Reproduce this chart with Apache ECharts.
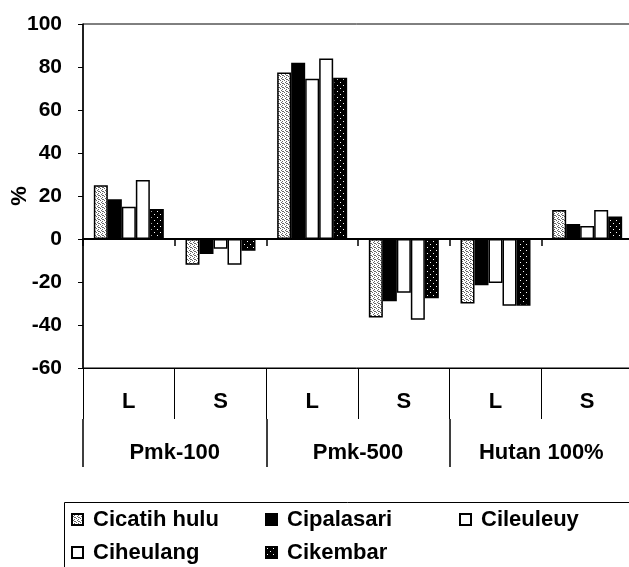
<!DOCTYPE html>
<html>
<head>
<meta charset="utf-8">
<script src="https://cdn.jsdelivr.net/npm/echarts@6/dist/echarts.min.js"></script>
<style>
html,body{margin:0;padding:0;background:#fff;}
#chart{width:629px;height:567px;}
</style>
</head>
<body>
<div id="chart"></div>
<script>
// ---- data ----
const categories = ['L', 'S', 'L', 'S', 'L', 'S'];
const groups = ['Pmk-100', 'Pmk-500', 'Hutan 100%'];
const seriesNames = ['Cicatih hulu', 'Cipalasari', 'Cileuleuy', 'Ciheulang', 'Cikembar'];
const cicatihHulu = [25, -12, 77.5, -36.5, -30, 13.5];
const cipalasari = [18.5, -7, 82, -29, -21.5, 7];
const cileuleuy = [15, -4.5, 74.5, -25, -20.5, 6];
const ciheulang = [27.5, -12, 84, -37.5, -31, 13.5];
const cikembar = [14, -5.5, 75, -27.5, -31, 10.5];
const yMin = -60, yMax = 100, yStep = 20;
const yName = '%';

// ---- patterns ----
function makePattern(size, bg, fg, dots) {
  const c = document.createElement('canvas');
  c.width = size; c.height = size;
  const g = c.getContext('2d');
  g.fillStyle = bg; g.fillRect(0, 0, size, size);
  g.fillStyle = fg;
  dots.forEach(d => g.fillRect(d[0], d[1], 1, 1));
  return { image: c, repeat: 'repeat' };
}
const lightStipple = makePattern(4, '#ffffff', '#666666', [[0,0],[2,1],[1,2],[3,3],[2,3]]);
const darkStipple = makePattern(6, '#000000', '#ffffff', [[1,1],[4,4]]);

const FONT = 'Liberation Sans, Arial, sans-serif';
const values = [cicatihHulu, cipalasari, cileuleuy, ciheulang, cikembar];
const fills = [lightStipple, '#000000', '#ffffff', '#ffffff', darkStipple];

const series = seriesNames.map((n, i) => ({
  name: n,
  type: 'bar',
  xAxisIndex: 0,
  yAxisIndex: 0,
  barWidth: 14,
  barGap: '0%',
  data: values[i],
  itemStyle: { color: fills[i], borderColor: '#000', borderWidth: 1.5 },
  emphasis: { disabled: true },
  animation: false
}));

const chart = echarts.init(document.getElementById('chart'), null, { renderer: 'canvas' });
chart.setOption({
  animation: false,
  backgroundColor: '#fff',
  grid: { left: 83, top: 24, bottom: 199, right: -4, show: true, borderColor: '#000', borderWidth: 1, backgroundColor: 'transparent', containLabel: false, outerBoundsMode: 'none' },
  graphic: [{
    type: 'rect', left: 62, top: 500, silent: true,
    shape: { width: 566, height: 90 },
    style: { fill: 'none', stroke: '#000', lineWidth: 1 }
  }],
  legend: {
    left: 62, top: 500, width: 600,
    orient: 'horizontal',
    icon: 'rect',
    itemWidth: 11, itemHeight: 11, itemGap: 0,
    padding: [3, 0, 0, 9],
    selectedMode: false,
    textStyle: { fontFamily: FONT, fontWeight: 'bold', fontSize: 22, color: '#000', width: 172, padding: [0, 0, 0, 5], lineHeight: 33 },
    data: seriesNames
  },
  xAxis: [
    {
      type: 'category', data: categories, position: 'bottom', offset: 0,
      axisLine: { show: false, onZero: false },
      axisTick: { show: false },
      axisLabel: { show: false },
      splitLine: { show: false }
    },
    {
      type: 'category', data: categories, position: 'bottom', offset: 0,
      axisLine: { onZero: false, show: true, lineStyle: { color: '#000', width: 1 } },
      axisTick: { show: true, length: 51, interval: 0, lineStyle: { color: '#000', width: 1 } },
      axisLabel: { show: true, interval: 0, margin: 23, fontFamily: FONT, fontWeight: 'bold', fontSize: 22, color: '#000' },
      splitLine: { show: false }
    },
    {
      type: 'category', data: groups, position: 'bottom', offset: 51,
      axisLine: { onZero: false, show: false },
      axisTick: { show: true, length: 48, interval: 0, lineStyle: { color: '#000', width: 1.5 } },
      axisLabel: { show: true, interval: 0, margin: 23, fontFamily: FONT, fontWeight: 'bold', fontSize: 22, color: '#000' },
      splitLine: { show: false }
    },
    {
      type: 'category', data: categories, position: 'bottom', offset: 0,
      axisLine: { show: true, onZero: false, lineStyle: { color: '#000', width: 2 } },
      axisTick: { show: true, inside: false, length: 7, interval: 0, lineStyle: { color: '#000', width: 1.5 } },
      axisLabel: { show: true, interval: 0, margin: 8, fontSize: 1, color: 'rgba(0,0,0,0)' },
      splitLine: { show: false }
    }
  ],
  yAxis: {
    type: 'value', min: yMin, max: yMax, interval: yStep,
    name: yName, nameLocation: 'middle', nameGap: 52, nameRotate: 90, nameMoveOverlap: false,
    nameTextStyle: { fontFamily: FONT, fontWeight: 'bold', fontSize: 22, color: '#000' },
    axisLine: { show: true, onZero: false, lineStyle: { color: '#000', width: 1.5 } },
    axisTick: { show: true, length: 5, lineStyle: { color: '#000' } },
    axisLabel: { margin: 21, fontFamily: FONT, fontWeight: 'bold', fontSize: 21, color: '#000' },
    splitLine: { show: false }
  },
  series: series
});
// place the zero-line axis at y = 0 using the library's own scale
const zeroPx = chart.convertToPixel({ yAxisIndex: 0 }, 0);
const minPx = chart.convertToPixel({ yAxisIndex: 0 }, yMin);
chart.setOption({ xAxis: [{}, {}, {}, { offset: zeroPx - minPx }] });
</script>
</body>
</html>
